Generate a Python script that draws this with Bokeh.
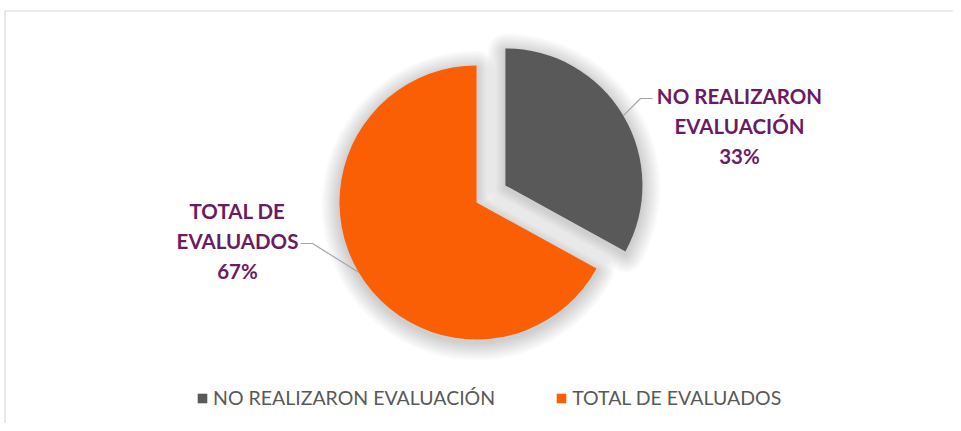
import math
import numpy as np
from bokeh.plotting import figure
from bokeh.models import Range1d, Legend, LegendItem
from bokeh.embed import file_html
from bokeh.resources import INLINE
from bokeh.core.properties import value

# ---------------- data ----------------
categories = ["NO REALIZARON EVALUACIÓN", "TOTAL DE EVALUADOS"]
values = [33, 67]
colors = ["#595959", "#FA5F06"]
explode = [33.6, 0.0]          # px offset of each slice (style)

# ---------------- layout / style ----------------
W, H = 953, 423
def Y(py):                     # screen y (down) -> data y (up)
    return H - py

LABEL_COLOR = "#6A1B64"
LEGEND_TEXT = "#595959"
FONT = "Lato"
CX, CY = 476, Y(202)           # pie center
R = 137
LABEL_ANCHORS = [(739, Y(125)), (237, Y(240))]
LEADER_ELBOWS = [[(640, Y(98)), (652, Y(98))],
                 [(312, Y(243)), (300, Y(243))]]

p = figure(width=W, height=H, x_range=Range1d(0, W), y_range=Range1d(0, H),
           output_backend="svg", toolbar_location=None, min_border=0,
           background_fill_color="white", border_fill_color="white")
p.axis.visible = False
p.grid.visible = False
p.outline_line_color = None

# chart area border (left + top visible)
p.line([4.5, 4.5, W], [0, Y(10.5), Y(10.5)], line_color="#D9D9D9", line_width=1.2)

total = float(sum(values))
fr = [v / total for v in values]
cum = np.concatenate([[0], np.cumsum(fr)])
# clockwise from 12 o'clock
t_start_cw = [math.radians(90 - 360 * cum[i]) for i in range(len(values))]
t_end_cw = [math.radians(90 - 360 * cum[i + 1]) for i in range(len(values))]
mids = [(a + b) / 2 for a, b in zip(t_start_cw, t_end_cw)]
centers = [(CX + e * math.cos(m), CY + e * math.sin(m)) for e, m in zip(explode, mids)]


def offset_wedge(ax, ay, r, t1, t2, d, n=60):
    """Minkowski sum of wedge (anticlockwise t1->t2) with disk of radius d."""
    pts = []
    for t in np.linspace(t1, t2, n):
        pts.append((ax + (r + d) * math.cos(t), ay + (r + d) * math.sin(t)))
    p2 = (ax + r * math.cos(t2), ay + r * math.sin(t2))
    for t in np.linspace(t2, t2 + math.pi / 2, 8):
        pts.append((p2[0] + d * math.cos(t), p2[1] + d * math.sin(t)))
    n2 = (math.cos(t2 + math.pi / 2), math.sin(t2 + math.pi / 2))
    n1 = (math.cos(t1 - math.pi / 2), math.sin(t1 - math.pi / 2))
    span = t2 - t1
    if span < math.pi:
        a0 = t2 + math.pi / 2
        a1 = t1 - math.pi / 2 + 2 * math.pi
        while a1 < a0:
            a1 += 2 * math.pi
        for t in np.linspace(a0, a1, 12):
            pts.append((ax + d * math.cos(t), ay + d * math.sin(t)))
    else:
        dot = n1[0] * n2[0] + n1[1] * n2[1]
        k = d / (1 + dot)
        pts.append((ax + k * (n1[0] + n2[0]), ay + k * (n1[1] + n2[1])))
    p1 = (ax + r * math.cos(t1), ay + r * math.sin(t1))
    for t in np.linspace(t1 - math.pi / 2, t1, 8):
        pts.append((p1[0] + d * math.cos(t), p1[1] + d * math.sin(t)))
    xs, ys = zip(*pts)
    return list(xs), list(ys)


# soft shadow
for d in np.arange(1.5, 19, 1.5):
    xs_l, ys_l = [], []
    for i in range(len(values)):
        t1, t2 = t_end_cw[i], t_start_cw[i]
        if t2 < t1:
            t2 += 2 * math.pi
        xs, ys = offset_wedge(centers[i][0], centers[i][1] - 3, R, t1, t2, d)
        xs_l.append(xs)
        ys_l.append(ys)
    p.patches(xs_l, ys_l, fill_color="black", fill_alpha=0.015, line_color=None)

# slices
renderers = []
for i in range(len(values)):
    r_ = p.wedge(x=[centers[i][0]], y=[centers[i][1]], radius=R,
                 start_angle=[t_end_cw[i]], end_angle=[t_start_cw[i]],
                 direction="anticlock", fill_color=colors[i], line_color=None)
    renderers.append(r_)

# leader lines
for i in range(len(values)):
    sx = centers[i][0] + R * math.cos(mids[i])
    sy = centers[i][1] + R * math.sin(mids[i])
    (ex, ey), (fx, fy) = LEADER_ELBOWS[i]
    p.line([sx, ex, fx], [sy, ey, fy], line_color="#A6A6A6", line_width=1.2)

# data labels
lx, ly, lt = [], [], []
for i, cat in enumerate(categories):
    parts = cat.rsplit(" ", 1) + [f"{round(values[i] / total * 100)}%"]
    ax, ay = LABEL_ANCHORS[i]
    for j, s in enumerate(parts):
        lx.append(ax)
        ly.append(ay + 30 - 30 * j)
        lt.append(s)
p.text(x=lx, y=ly, text=lt, text_align="center", text_baseline="middle",
       text_font=value(FONT), text_font_style="bold", text_font_size="20.5px",
       text_color=LABEL_COLOR)

# legend
legend = Legend(items=[LegendItem(label=c, renderers=[r]) for c, r in zip(categories, renderers)],
                orientation="horizontal", location=(196, 14),
                glyph_width=12, glyph_height=12, label_standoff=5, spacing=60,
                padding=0, margin=0, border_line_color=None, background_fill_alpha=0,
                label_text_font=FONT, label_text_font_size="19.5px",
                label_text_color=LEGEND_TEXT, label_height=20)
p.add_layout(legend)

open("out.html", "w").write(file_html(p, INLINE))
